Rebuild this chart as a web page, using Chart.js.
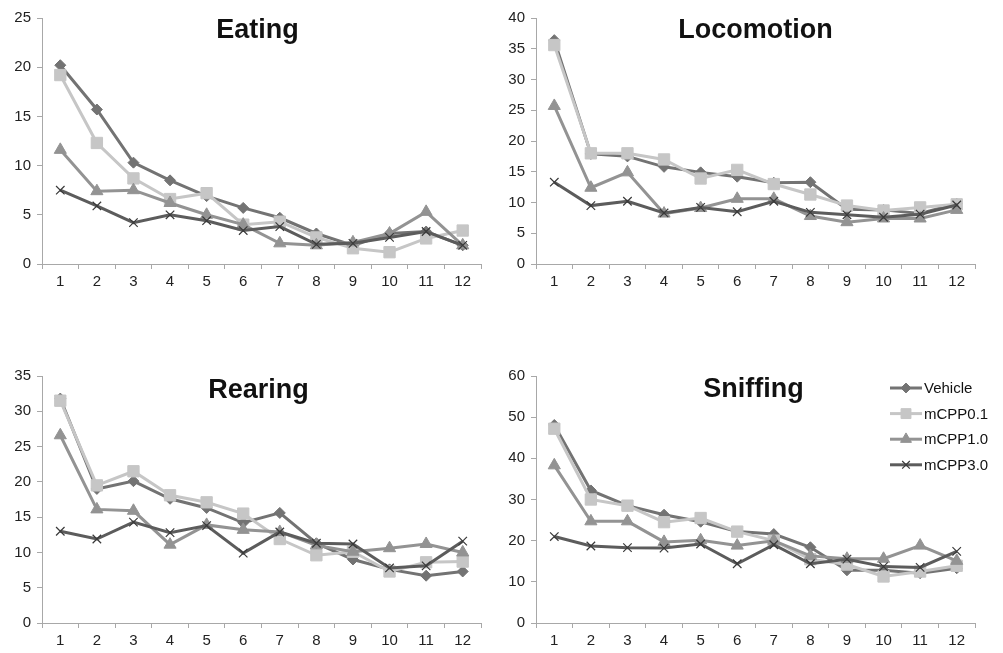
<!DOCTYPE html>
<html>
<head>
<meta charset="utf-8">
<script src="https://cdn.jsdelivr.net/npm/chart.js@4"></script>
<style>
  html, body { margin: 0; padding: 0; background: #fff; }
  #wrap { position: relative; width: 1003px; height: 653px; overflow: hidden; }
  canvas { position: absolute; }
</style>
</head>
<body>
<div id="wrap">
  <canvas id="eating" width="500" height="300" style="left:0;top:0"></canvas>
  <canvas id="locomotion" width="503" height="300" style="left:500px;top:0"></canvas>
  <canvas id="rearing" width="500" height="323" style="left:0;top:330px"></canvas>
  <canvas id="sniffing" width="503" height="323" style="left:500px;top:330px"></canvas>
</div>
<script>
// Time bins (x categories)
const bins = ['1','2','3','4','5','6','7','8','9','10','11','12'];
const groups = ['Vehicle', 'mCPP0.1', 'mCPP1.0', 'mCPP3.0'];

// Eating
const eatingVehicle = [20.2, 15.7, 10.3, 8.5, 6.9, 5.7, 4.7, 3.1, 1.9, 3.1, 3.3, 1.9];
const eatingM01     = [19.2, 12.3, 8.7, 6.6, 7.2, 4.0, 4.3, 2.7, 1.6, 1.2, 2.6, 3.4];
const eatingM10     = [11.6, 7.4, 7.5, 6.2, 5.0, 4.0, 2.1, 1.9, 2.2, 3.1, 5.3, 1.9];
const eatingM30     = [7.5, 5.9, 4.2, 5.0, 4.4, 3.4, 3.8, 2.0, 2.1, 2.7, 3.3, 1.9];

// Locomotion
const locoVehicle = [36.4, 17.9, 17.5, 15.8, 14.9, 14.2, 13.2, 13.3, 8.9, 8.8, 8.2, 9.8];
const locoM01     = [35.6, 18.0, 18.0, 17.0, 13.9, 15.3, 13.0, 11.3, 9.5, 8.7, 9.2, 9.7];
const locoM10     = [25.7, 12.4, 14.9, 8.2, 9.1, 10.6, 10.6, 7.8, 6.8, 7.4, 7.4, 8.8];
const locoM30     = [13.3, 9.5, 10.2, 8.3, 9.2, 8.5, 10.2, 8.4, 8.0, 7.6, 8.1, 9.6];

// Rearing
const rearVehicle = [31.8, 19.0, 20.1, 17.6, 16.3, 14.2, 15.6, 11.3, 9.0, 7.6, 6.7, 7.3];
const rearM01     = [31.5, 19.5, 21.5, 18.1, 17.1, 15.5, 11.9, 9.6, 10.1, 7.3, 8.6, 8.7];
const rearM10     = [26.6, 16.1, 15.9, 11.1, 13.9, 13.2, 12.9, 11.0, 10.1, 10.6, 11.2, 10.0];
const rearM30     = [13.0, 11.9, 14.3, 12.8, 13.8, 9.9, 12.9, 11.3, 11.2, 7.8, 8.1, 11.6];

// Sniffing
const sniffVehicle = [48.1, 32.2, 28.5, 26.3, 24.6, 22.2, 21.6, 18.4, 12.8, 12.8, 12.1, 13.3];
const sniffM01     = [47.2, 30.0, 28.5, 24.5, 25.5, 22.2, 20.0, 15.5, 14.2, 11.3, 12.5, 13.9];
const sniffM10     = [38.3, 24.7, 24.7, 19.7, 20.1, 18.8, 20.0, 16.3, 15.6, 15.6, 18.8, 15.1];
const sniffM30     = [21.0, 18.7, 18.3, 18.2, 19.2, 14.4, 19.0, 14.4, 15.5, 13.7, 13.5, 17.4];

const FONT = '"Liberation Sans", Arial, Helvetica, sans-serif';
const AXIS_COLOR = '#a8a8a8';

// Series styling per treatment group
const styles = [
  { color: '#737373', point: 'rectRot',  radius: 5.5, pointBorder: '#737373', pw: 1, order: 4 },
  { color: '#c6c6c6', point: 'rect',     radius: 8,   pointBorder: '#c6c6c6', pw: 1, order: 3 },
  { color: '#939393', point: 'triangle', radius: 7,   pointBorder: '#939393', pw: 1, order: 2 },
  { color: '#5c5c5c', point: 'crossRot', radius: 6,   pointBorder: '#3a3a3a', pw: 1.2, order: 1 }
];

function makeDatasets(series) {
  return series.map((vals, i) => {
    const s = styles[i];
    return {
      label: groups[i],
      data: vals,
      borderColor: s.color,
      backgroundColor: s.color,
      borderWidth: 3,
      pointStyle: s.point,
      pointRadius: s.radius,
      pointHoverRadius: s.radius,
      pointBackgroundColor: s.color,
      pointBorderColor: s.pointBorder,
      pointBorderWidth: s.pw,
      tension: 0,
      order: s.order
    };
  });
}

// Bold title drawn inside the plot area
const panelTitle = {
  id: 'panelTitle',
  afterDraw(chart, args, opts) {
    if (!opts || !opts.text) return;
    const ctx = chart.ctx, a = chart.chartArea;
    ctx.save();
    ctx.font = 'bold 27px ' + FONT;
    ctx.fillStyle = '#111';
    ctx.textAlign = 'center';
    ctx.textBaseline = 'alphabetic';
    ctx.fillText(opts.text, (a.left + a.right) / 2 + (opts.dx || 0), a.top + (opts.dy || 21));
    ctx.restore();
  }
};

// Legend drawn inside the plot area, using each dataset's own styling
const innerLegend = {
  id: 'innerLegend',
  afterDraw(chart, args, opts) {
    if (!opts || !opts.show) return;
    const ctx = chart.ctx;
    ctx.save();
    chart.data.datasets.forEach((ds, i) => {
      const y = opts.y + i * opts.rowGap;
      ctx.strokeStyle = ds.borderColor;
      ctx.lineWidth = 3;
      ctx.beginPath();
      ctx.moveTo(opts.x, y);
      ctx.lineTo(opts.x + opts.lineLen, y);
      ctx.stroke();
      ctx.fillStyle = ds.pointBackgroundColor;
      ctx.strokeStyle = ds.pointBorderColor;
      ctx.lineWidth = ds.pointBorderWidth;
      Chart.helpers.drawPoint(ctx, {
        pointStyle: ds.pointStyle,
        radius: ds.pointStyle === 'rect' ? 7 : ds.pointRadius * 0.9,
        borderWidth: ds.pointBorderWidth,
        rotation: 0
      }, opts.x + opts.lineLen / 2, y);
      ctx.font = '15px ' + FONT;
      ctx.fillStyle = '#111';
      ctx.textAlign = 'left';
      ctx.textBaseline = 'middle';
      ctx.fillText(ds.label, opts.x + opts.lineLen + 2, y + 1);
    });
    ctx.restore();
  }
};

function makeChart(id, series, yMax, step, title, geom, legend) {
  const ctx = document.getElementById(id);
  return new Chart(ctx, {
    type: 'line',
    data: { labels: bins, datasets: makeDatasets(series) },
    options: {
      responsive: false,
      animation: false,
      events: [],
      layout: { padding: { left: 0, top: geom.top, right: geom.right, bottom: 0 } },
      scales: {
        x: {
          type: 'category',
          offset: true,
          grid: { display: true, offset: true, drawOnChartArea: false, drawTicks: true, tickLength: 5, color: AXIS_COLOR, lineWidth: 1 },
          border: { display: true, color: AXIS_COLOR, width: 1 },
          ticks: { color: '#222', font: { family: FONT, size: 15 }, padding: 4, maxRotation: 0, autoSkip: false },
          afterFit(scale) { scale.height = geom.xh; }
        },
        y: {
          min: 0,
          max: yMax,
          ticks: { stepSize: step, color: '#222', font: { family: FONT, size: 15 }, padding: 6 },
          grid: { display: true, drawOnChartArea: false, drawTicks: true, tickLength: 5, color: AXIS_COLOR, lineWidth: 1 },
          border: { display: true, color: AXIS_COLOR, width: 1 },
          afterFit(scale) { scale.width = geom.left; }
        }
      },
      plugins: {
        legend: { display: false },
        tooltip: { enabled: false },
        title: { display: false },
        panelTitle: { text: title, dy: geom.titleDy, dx: geom.titleDx || 0 },
        innerLegend: legend || { show: false }
      }
    },
    plugins: [panelTitle, innerLegend]
  });
}

makeChart('eating', [eatingVehicle, eatingM01, eatingM10, eatingM30], 25, 5, 'Eating',
  { left: 42, top: 18, right: 19, xh: 36, titleDy: 20, titleDx: -4 });
makeChart('locomotion', [locoVehicle, locoM01, locoM10, locoM30], 40, 5, 'Locomotion',
  { left: 36, top: 18, right: 28, xh: 36, titleDy: 20 });
makeChart('rearing', [rearVehicle, rearM01, rearM10, rearM30], 35, 5, 'Rearing',
  { left: 42, top: 46, right: 19, xh: 30, titleDy: 22, titleDx: -3 });
makeChart('sniffing', [sniffVehicle, sniffM01, sniffM10, sniffM30], 60, 10, 'Sniffing',
  { left: 36, top: 46, right: 28, xh: 30, titleDy: 21, titleDx: -2 },
  { show: true, x: 390, y: 58, rowGap: 25.6, lineLen: 32 });
</script>
</body>
</html>
